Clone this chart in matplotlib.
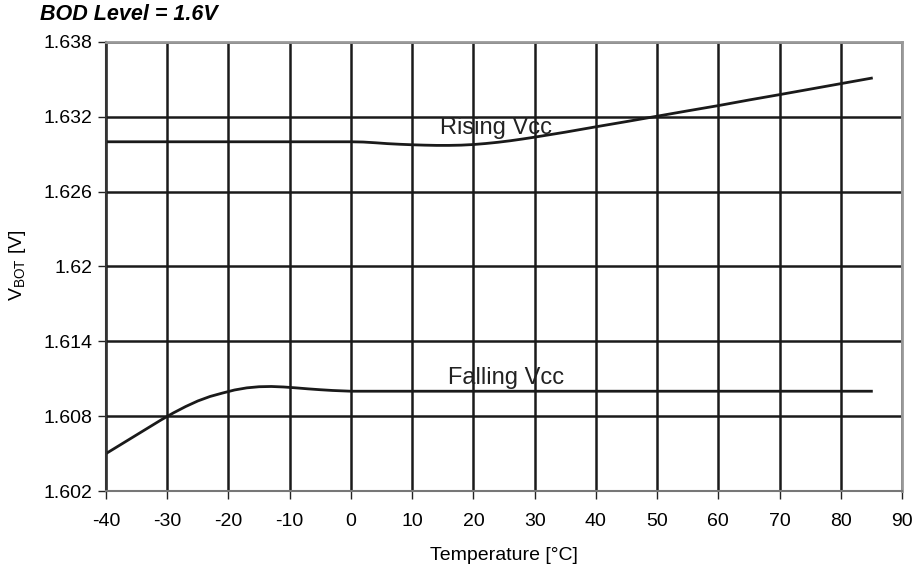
import matplotlib
matplotlib.use("Agg")
import matplotlib.pyplot as plt
import numpy as np

plt.rcParams['font.family'] = ['Liberation Sans', 'DejaVu Sans']
plt.rcParams['mathtext.fontset'] = 'custom'
plt.rcParams['mathtext.rm'] = 'Liberation Sans'
plt.rcParams['axes.unicode_minus'] = False

# values
rising_t = [-40, -30, -20, -10, 0, 2, 4, 6, 8, 10, 12, 14, 16, 18, 20, 22, 24, 26, 28, 30,
            35, 40, 45, 50, 55, 60, 65, 70, 75, 80, 85]
rising_v = [1.6300, 1.6300, 1.6300, 1.6300, 1.6300, 1.62998, 1.62992, 1.62985, 1.62980, 1.62976,
            1.62973, 1.62971, 1.62971, 1.62973, 1.62978, 1.62986, 1.62996, 1.63008, 1.63022, 1.63037,
            1.63077, 1.63120, 1.63162, 1.63205, 1.63248, 1.63290, 1.63335, 1.63378, 1.63422, 1.63466, 1.63510]
falling_t = [-40, -37, -34, -31, -29, -27, -25, -23, -21, -19, -17, -15, -13, -11, -9, -7, -5,
             -3, -1, 0, 10, 20, 40, 60, 85]
falling_v = [1.6050, 1.6059, 1.6068, 1.6077, 1.60826, 1.60877, 1.60922, 1.60958, 1.60985, 1.61010,
             1.61027, 1.61036, 1.61038, 1.61034, 1.61027, 1.61019, 1.61012,
             1.61006, 1.61002, 1.6100, 1.6100, 1.6100, 1.6100, 1.6100, 1.6100]

xticks = list(range(-40, 91, 10))
yticks = [1.602, 1.608, 1.614, 1.62, 1.626, 1.632, 1.638]
ytick_labels = ['1.602', '1.608', '1.614', '1.62', '1.626', '1.632', '1.638']

fig = plt.figure(figsize=(9.16, 5.75), dpi=100)
ax = fig.add_axes([106/916, 1-491/575, 796/916, 449/575])

ax.set_xlim(-40, 90)
ax.set_ylim(1.602, 1.638)
ax.set_xticks(xticks)
ax.set_yticks(yticks)
ax.set_yticklabels(ytick_labels)
ax.tick_params(labelsize=14, length=6, width=1, color='#222222', pad=4)
ax.tick_params(axis='x', pad=10)
ax.grid(True, color='#1a1a1a', linewidth=1.8)
ax.set_axisbelow(True)

for s in ['top', 'right']:
    ax.spines[s].set_color('#999999')
    ax.spines[s].set_linewidth(2)
ax.spines['bottom'].set_color('#777777')
ax.spines['bottom'].set_linewidth(1.5)
ax.spines['left'].set_color('#333333')
ax.spines['left'].set_linewidth(1.5)

ax.plot(rising_t, rising_v, color='#1a1a1a', linewidth=2)
ax.plot(falling_t, falling_v, color='#1a1a1a', linewidth=2)

ax.text(14.5, 1.6311, 'Rising Vcc', fontsize=17, va='center', ha='left', color='#222222')
ax.text(15.8, 1.6111, 'Falling Vcc', fontsize=17, va='center', ha='left', color='#222222')

ax.set_xlabel('Temperature [°C]', fontsize=14, labelpad=12)
fig.text(18/916, 1-265/575, r'V$_{\mathrm{BOT}}$ [V]', rotation=90, fontsize=14,
         ha='center', va='center')
fig.text(40/916, 1-14/575, 'BOD Level = 1.6V', fontsize=15.5, fontweight='bold',
         fontstyle='italic', ha='left', va='center')

fig.savefig('out.png', dpi=100)
